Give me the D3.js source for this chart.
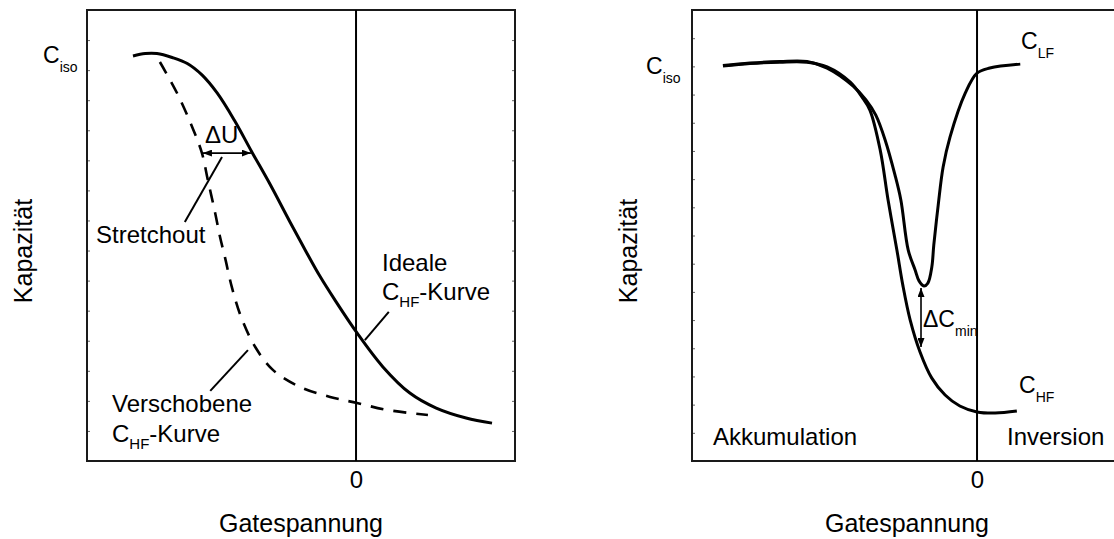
<!DOCTYPE html>
<html>
<head>
<meta charset="utf-8">
<script src="https://cdn.jsdelivr.net/npm/d3@7"></script>
<style>
    body { margin: 0; background: #fff; }
    text { font-family: "Liberation Sans", Arial, sans-serif; fill: #000; }
</style>
</head>
<body>
<div id="chart"></div>
<script>

// left panel: ideal vs. shifted high frequency C-V curve
const idealVoltage = [-4.56, -4.31, -4.07, -3.76, -3.45, -3.15, -2.84, -2.49, -2.13, -1.76, -1.35, -1.04, -0.74, -0.43, 0.02, 0.55, 1.10, 1.64, 2.25, 2.78];
const idealCap = [13.47, 13.55, 13.55, 13.42, 13.22, 12.84, 12.24, 11.34, 10.28, 9.21, 7.95, 7.02, 6.15, 5.35, 4.26, 3.13, 2.26, 1.76, 1.43, 1.26];

const shiftedVoltage = [-4.01, -3.66, -3.35, -3.15, -3.03, -2.88, -2.78, -2.68, -2.54, -2.35, -2.06, -1.70, -1.14, -0.53, 0.02, 0.63, 1.47];
const shiftedCap = [13.27, 12.24, 11.11, 10.24, 9.35, 8.25, 7.45, 6.78, 5.79, 4.79, 3.79, 3.03, 2.46, 2.13, 1.93, 1.70, 1.53];

// right panel: high and low frequency C-V curve
const hfVoltage = [-5.17, -4.62, -4.01, -3.46, -3.05, -2.58, -2.34, -2.18, -1.97, -1.81, -1.63, -1.51, -1.36, -1.16, -0.92, -0.65, -0.35, 0.00, 0.37, 0.81];
const hfCap = [14.01, 14.10, 14.15, 14.15, 13.98, 13.44, 12.91, 12.45, 11.03, 9.26, 7.48, 6.24, 5.00, 3.87, 2.94, 2.34, 1.95, 1.74, 1.70, 1.77];

const lfVoltage = [-5.17, -4.62, -4.01, -3.46, -3.05, -2.52, -2.26, -2.06, -1.87, -1.67, -1.55, -1.40, -1.26, -1.18, -1.08, -1.00, -0.92, -0.88, -0.79, -0.69, -0.55, -0.24, 0.00, 0.26, 0.88];
const lfCap = [14.03, 14.12, 14.17, 14.17, 13.94, 13.30, 12.81, 12.27, 11.39, 10.15, 9.26, 7.48, 6.78, 6.39, 6.21, 6.31, 6.88, 7.66, 9.08, 10.43, 11.49, 13.05, 13.76, 13.94, 14.08];

const xTickValues = [0];
const xTickLabels = ['0'];

const svgWidth = 1114;
const svgHeight = 539;

const svg = d3.select('#chart').append('svg')
    .attr('width', svgWidth)
    .attr('height', svgHeight);

const defs = svg.append('defs');

defs.append('marker')
    .attr('id', 'arrow')
    .attr('markerUnits', 'userSpaceOnUse')
    .attr('markerWidth', 9)
    .attr('markerHeight', 7)
    .attr('refX', 9)
    .attr('refY', 3.5)
    .attr('orient', 'auto-start-reverse')
    .append('path')
    .attr('d', 'M0,0 L9,3.5 L0,7 z')
    .attr('fill', '#000');

const zip = (xs, ys) => xs.map((v, i) => [v, ys[i]]);

function makePanel(left, right, xDomain, yMax) {

    const x = d3.scaleLinear().domain(xDomain).range([left, right]);
    const y = d3.scaleLinear().domain([0, yMax]).range([461, 10]);

    const g = svg.append('g');

    // tiny inward ticks on both sides
    g.append('g')
        .attr('transform', `translate(${left},0)`)
        .call(d3.axisLeft(y).tickValues(d3.range(1, yMax)).tickSize(-3).tickFormat(''))
        .call(a => a.select('.domain').remove())
        .selectAll('line').attr('stroke', '#666');

    g.append('g')
        .attr('transform', `translate(${right},0)`)
        .call(d3.axisRight(y).tickValues(d3.range(1, yMax)).tickSize(-3).tickFormat(''))
        .call(a => a.select('.domain').remove())
        .selectAll('line').attr('stroke', '#666');

    // zero tick label
    g.append('g')
        .attr('transform', 'translate(0,461)')
        .call(d3.axisBottom(x).tickValues(xTickValues).tickFormat((d, i) => xTickLabels[i]).tickSize(0).tickPadding(10))
        .call(a => a.select('.domain').remove())
        .selectAll('text')
        .style('font-size', '24px')
        .style('font-family', '"Liberation Sans", Arial, sans-serif');

    // frame
    g.append('rect')
        .attr('x', left)
        .attr('y', 10)
        .attr('width', right - left)
        .attr('height', 451)
        .attr('fill', 'none')
        .attr('stroke', '#1a1a1a')
        .attr('stroke-width', 2);

    // vertical line at U = 0
    g.append('line')
        .attr('x1', x(0)).attr('x2', x(0))
        .attr('y1', 10).attr('y2', 461)
        .attr('stroke', '#000')
        .attr('stroke-width', 2);

    g.append('text')
        .attr('x', (left + right) / 2)
        .attr('y', 532)
        .style('text-anchor', 'middle')
        .style('font-size', '25px')
        .text('Gatespannung');

    g.append('text')
        .attr('transform', `translate(${left - 55},251) rotate(-90)`)
        .style('text-anchor', 'middle')
        .style('font-size', '25px')
        .text('Kapazität');

    const line = d3.line()
        .x(d => x(d[0]))
        .y(d => y(d[1]))
        .curve(d3.curveCatmullRom.alpha(0.5));

    return { g, x, y, line };
}

function subText(g, px, py, main, sub, rest, size, subSize, drop) {
    const t = g.append('text')
        .attr('x', px)
        .attr('y', py)
        .style('font-size', size + 'px');
    t.append('tspan').text(main);
    t.append('tspan').attr('dy', drop).style('font-size', subSize + 'px').text(sub);
    if (rest) {
        t.append('tspan').attr('dy', -drop).style('font-size', size + 'px').text(rest);
    }
    return t;
}

function arrow(g, x1, y1, x2, y2) {
    g.append('line')
        .attr('x1', x1).attr('y1', y1)
        .attr('x2', x2).attr('y2', y2)
        .attr('stroke', '#000')
        .attr('stroke-width', 1.6)
        .attr('marker-start', 'url(#arrow)')
        .attr('marker-end', 'url(#arrow)');
}

function leader(g, x1, y1, x2, y2) {
    g.append('line')
        .attr('x1', x1).attr('y1', y1)
        .attr('x2', x2).attr('y2', y2)
        .attr('stroke', '#000')
        .attr('stroke-width', 2);
}

// Left panel
const L = makePanel(87, 515, [-5.5, 3.25], 15);

L.g.append('path')
    .attr('d', L.line(zip(shiftedVoltage, shiftedCap)))
    .attr('fill', 'none')
    .attr('stroke', '#000')
    .attr('stroke-width', 2.6)
    .attr('stroke-dasharray', '13,10');

L.g.append('path')
    .attr('d', L.line(zip(idealVoltage, idealCap)))
    .attr('fill', 'none')
    .attr('stroke', '#000')
    .attr('stroke-width', 3);

subText(L.g, 43, 63, 'C', 'iso', null, 23, 14, 9);

arrow(L.g, L.x(-3.13), L.y(10.24), L.x(-2.15), L.y(10.24));
L.g.append('text').attr('x', 205).attr('y', 143).style('font-size', '24px').text('ΔU');

leader(L.g, L.x(-3.50), L.y(7.95), L.x(-2.74), L.y(10.11));
L.g.append('text').attr('x', 96).attr('y', 243).style('font-size', '24px').text('Stretchout');

leader(L.g, L.x(-2.98), L.y(2.33), L.x(-2.21), L.y(3.69));
L.g.append('text').attr('x', 112).attr('y', 412).style('font-size', '24px').text('Verschobene');
subText(L.g, 112, 442, 'C', 'HF', '-Kurve', 24, 15, 7);

leader(L.g, L.x(0.18), L.y(4.02), L.x(0.67), L.y(4.96));
L.g.append('text').attr('x', 382).attr('y', 271).style('font-size', '24px').text('Ideale');
subText(L.g, 382, 300, 'C', 'HF', '-Kurve', 24, 15, 7);

// Right panel
const R = makePanel(692, 1122, [-5.8, 2.95], 16);

R.g.append('path')
    .attr('d', R.line(zip(hfVoltage, hfCap)))
    .attr('fill', 'none')
    .attr('stroke', '#000')
    .attr('stroke-width', 3);

R.g.append('path')
    .attr('d', R.line(zip(lfVoltage, lfCap)))
    .attr('fill', 'none')
    .attr('stroke', '#000')
    .attr('stroke-width', 3);

subText(R.g, 646, 74, 'C', 'iso', null, 23, 14, 9);
subText(R.g, 1021, 49, 'C', 'LF', null, 23, 14, 9);
subText(R.g, 1019, 393, 'C', 'HF', null, 23, 14, 9);

arrow(R.g, R.x(-1.14), R.y(6.14), R.x(-1.14), R.y(4.04));

defs.append('clipPath')
    .attr('id', 'clip-min')
    .append('rect')
    .attr('x', 692)
    .attr('y', 0)
    .attr('width', R.x(0) - 692)
    .attr('height', 539);

subText(R.g, 923, 327, 'ΔC', 'min', null, 23, 14, 9)
    .attr('clip-path', 'url(#clip-min)');

R.g.append('text').attr('x', 713).attr('y', 445).style('font-size', '24px').text('Akkumulation');
R.g.append('text').attr('x', 1007).attr('y', 445).style('font-size', '24px').text('Inversion');

</script>
</body>
</html>
